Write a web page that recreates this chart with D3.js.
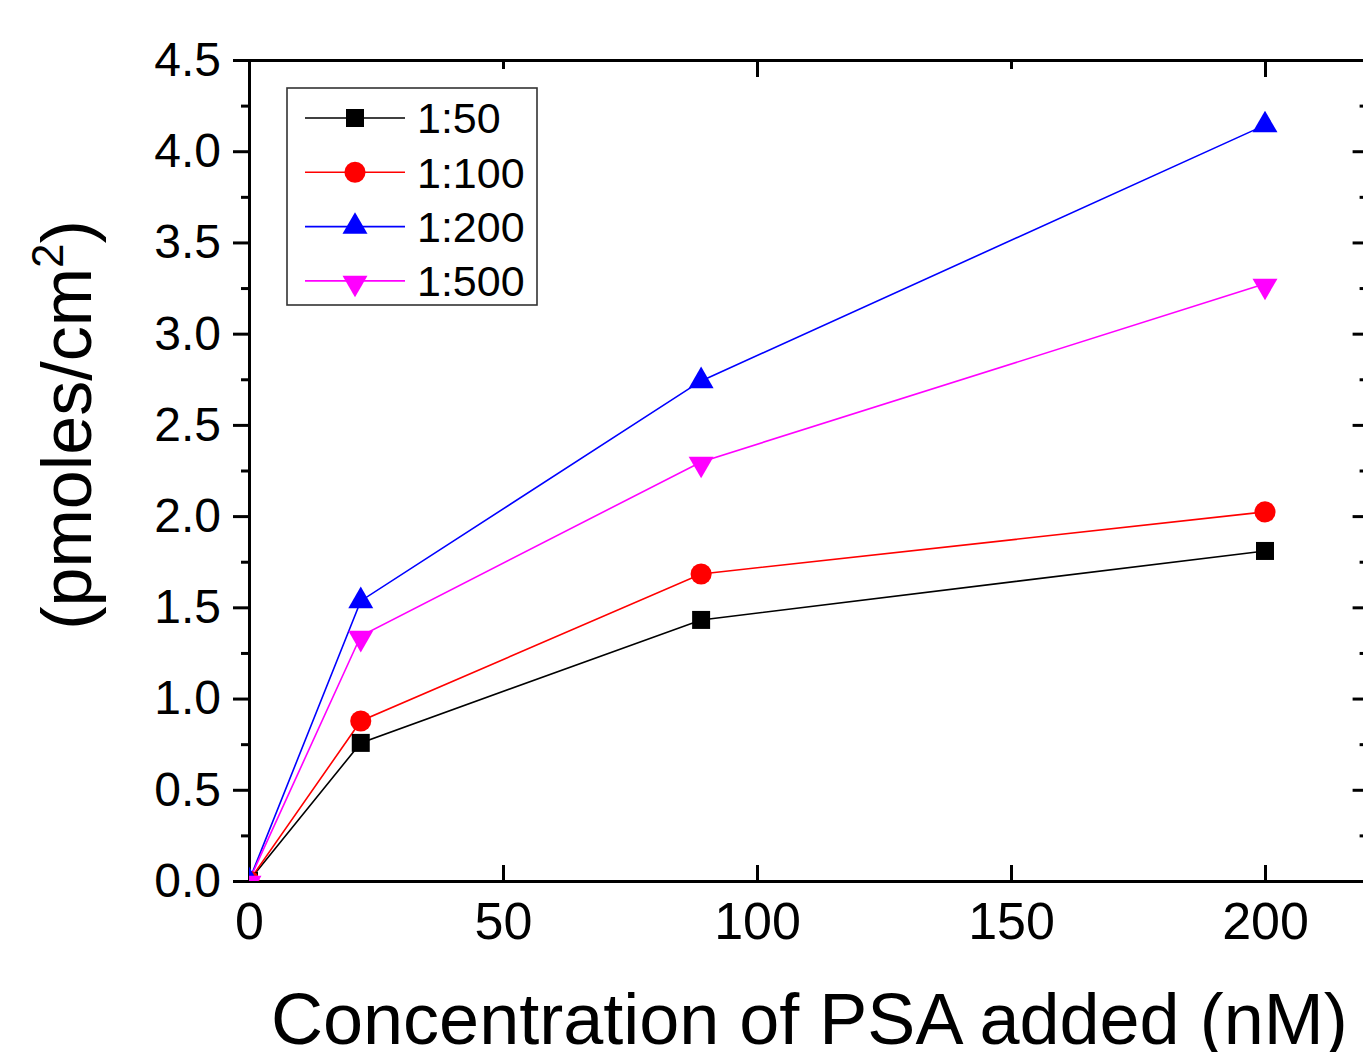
<!DOCTYPE html>
<html>
<head>
<meta charset="utf-8">
<script src="https://cdn.jsdelivr.net/npm/d3@7"></script>
<style>
  body { margin: 0; background: #fff; }
  svg { display: block; font-family: Arial, "Liberation Sans", sans-serif; }
  .axis path, .axis line { stroke: #000; stroke-width: 3; }
  .axis text { fill: #000; }
  .series { fill: none; stroke-width: 1.6; }
</style>
</head>
<body>
<div id="chart"></div>
<script>
const W = 1363, H = 1052;

// Data
const concentrations = [0, 22, 89, 200];
const ratios = ['1:50', '1:100', '1:200', '1:500'];
const v_1_50 = [0, 0.757, 1.431, 1.809];
const v_1_100 = [0, 0.877, 1.683, 2.023];
const v_1_200 = [0, 1.535, 2.741, 4.143];
const v_1_500 = [0, 1.343, 2.297, 3.273];
const colors = ['#000000', '#ff0000', '#0000ff', '#ff00ff'];
const yTicks = [0, 0.5, 1, 1.5, 2, 2.5, 3, 3.5, 4, 4.5];
const xTicks = [0, 50, 100, 150, 200];

const seriesValues = [v_1_50, v_1_100, v_1_200, v_1_500];

const x = d3.scaleLinear().domain([0, 220]).range([249, 1366.6]);
const y = d3.scaleLinear().domain([0, 4.5]).range([881, 60]);

const svg = d3.select('#chart').append('svg')
  .attr('width', W).attr('height', H).attr('viewBox', `0 0 ${W} ${H}`);

svg.append('clipPath').attr('id', 'plot-clip')
  .append('rect')
  .attr('x', x(0)).attr('y', y(4.5))
  .attr('width', x(220) - x(0)).attr('height', y(0) - y(4.5));

const minorY = d3.range(0.25, 4.5, 0.5);

// Left axis: ticks outward
svg.append('g').attr('class', 'axis')
  .attr('transform', `translate(${x(0)},0)`)
  .call(d3.axisLeft(y).tickValues(minorY).tickSize(8).tickSizeOuter(0).tickFormat(''));
svg.append('g').attr('class', 'axis')
  .attr('transform', `translate(${x(0)},0)`)
  .call(d3.axisLeft(y).tickValues(yTicks).tickSize(16).tickSizeOuter(0)
    .tickPadding(12).tickFormat(d3.format('.1f')))
  .selectAll('text').attr('font-size', 48);

// Right axis: ticks inward, no labels
svg.append('g').attr('class', 'axis')
  .attr('transform', `translate(${x(220)},0)`)
  .call(d3.axisRight(y).tickValues(minorY).tickSize(-7).tickSizeOuter(0).tickFormat(''));
svg.append('g').attr('class', 'axis')
  .attr('transform', `translate(${x(220)},0)`)
  .call(d3.axisRight(y).tickValues(yTicks).tickSize(-14).tickSizeOuter(0).tickFormat(''));

// Bottom axis: ticks inward
svg.append('g').attr('class', 'axis')
  .attr('transform', `translate(0,${y(0)})`)
  .call(d3.axisBottom(x).tickValues(xTicks).tickSize(-16).tickSizeOuter(0).tickPadding(21))
  .selectAll('text').attr('font-size', 52);

// Top axis: ticks inward
svg.append('g').attr('class', 'axis')
  .attr('transform', `translate(0,${y(4.5)})`)
  .call(d3.axisTop(x).tickValues([0, 100, 200]).tickSize(-17).tickSizeOuter(0).tickFormat(''));
svg.append('g').attr('class', 'axis')
  .attr('transform', `translate(0,${y(4.5)})`)
  .call(d3.axisTop(x).tickValues([50, 150]).tickSize(-9).tickSizeOuter(0).tickFormat(''));

svg.selectAll('.axis .domain').attr('stroke-linecap', 'square');

const symbols = [
  d3.symbol().type(d3.symbolSquare).size(324),
  d3.symbol().type(d3.symbolCircle).size(350),
  d3.symbol().type(d3.symbolTriangle).size(270),
  d3.symbol().type(d3.symbolTriangle).size(270)
];
const rot = [0, 0, 0, 180];
const triOffset = [0, 0, 0, 2];

const line = d3.line().x((d, i) => x(concentrations[i])).y(d => y(d));

const plot = svg.append('g').attr('clip-path', 'url(#plot-clip)');
seriesValues.forEach((vals, k) => {
  plot.append('path').datum(vals)
    .attr('class', 'series')
    .attr('stroke', colors[k])
    .attr('d', line);
});
seriesValues.forEach((vals, k) => {
  plot.selectAll(null).data(vals).enter().append('path')
    .attr('d', symbols[k])
    .attr('fill', colors[k])
    .attr('transform', (d, i) =>
      `translate(${x(concentrations[i])},${y(d) + triOffset[k]}) rotate(${rot[k]})`);
});

// Legend
const lg = svg.append('g');
lg.append('rect')
  .attr('x', 287).attr('y', 88).attr('width', 250).attr('height', 217)
  .attr('fill', '#fff').attr('stroke', '#333').attr('stroke-width', 1.6);
ratios.forEach((r, k) => {
  const cy = 118 + k * 54.3;
  lg.append('line')
    .attr('x1', 305).attr('x2', 405).attr('y1', cy).attr('y2', cy)
    .attr('stroke', colors[k]).attr('stroke-width', 1.6);
  lg.append('path')
    .attr('d', symbols[k])
    .attr('fill', colors[k])
    .attr('transform', `translate(355,${cy + triOffset[k]}) rotate(${rot[k]})`);
  lg.append('text')
    .attr('x', 417).attr('y', cy).attr('dy', '0.36em')
    .attr('font-size', 43)
    .text(r);
});

// Axis titles
svg.append('text')
  .attr('x', 271).attr('y', 1044)
  .attr('font-size', 72)
  .text('Concentration of PSA added (nM)');

const yt = svg.append('text')
  .attr('transform', 'translate(91,425) rotate(-90)')
  .attr('text-anchor', 'middle')
  .attr('font-size', 70);
yt.append('tspan').text('(pmoles/cm');
yt.append('tspan').attr('font-size', 44).attr('dy', -28).text('2');
yt.append('tspan').attr('dy', 28).text(')');
</script>
</body>
</html>
